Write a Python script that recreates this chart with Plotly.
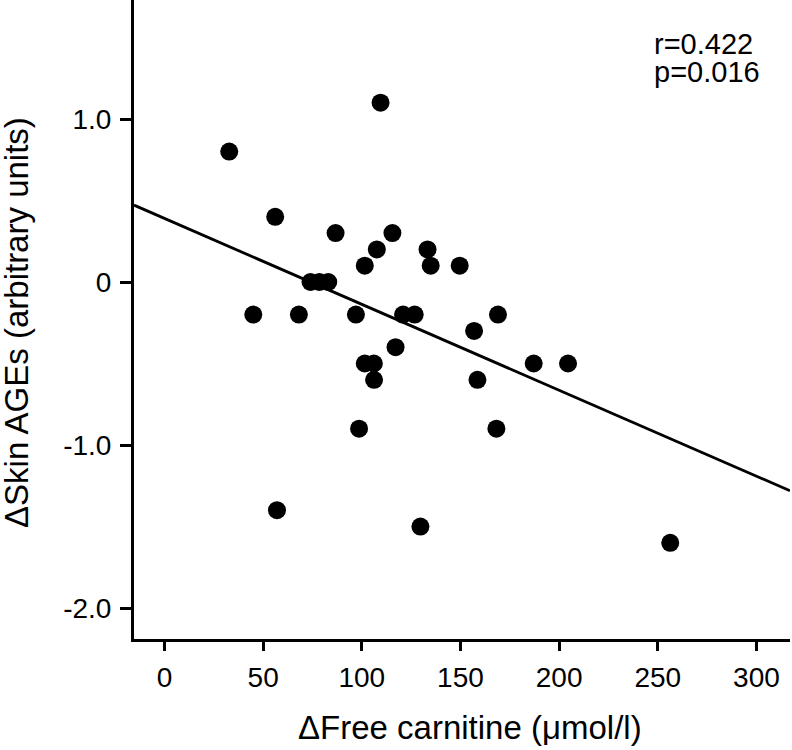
import plotly.graph_objects as go

# Data
free_carnitine = [109.5, 32.8, 56.1, 86.7, 115.5, 107.6, 133.3, 101.5, 134.9, 149.6,
                  74.0, 78.5, 83.0, 45.0, 68.1, 97.0, 120.9, 126.8, 169.0, 156.9,
                  117.1, 187.1, 101.5, 106.1, 204.5, 106.2, 158.6, 98.6, 168.2, 57.0,
                  129.7, 256.3]
skin_ages = [1.1, 0.8, 0.4, 0.3, 0.3, 0.2, 0.2, 0.1, 0.1, 0.1,
             0.0, 0.0, 0.0, -0.2, -0.2, -0.2, -0.2, -0.2, -0.2, -0.3,
             -0.4, -0.5, -0.5, -0.5, -0.5, -0.6, -0.6, -0.9, -0.9, -1.4,
             -1.5, -1.6]

fit_intercept = 0.39
fit_slope = -0.00527

x_tick_vals = [0, 50, 100, 150, 200, 250, 300]
x_tick_text = ["0", "50", "100", "150", "200", "250", "300"]
y_tick_vals = [-2, -1, 0, 1]
y_tick_text = ["-2.0", "-1.0", "0", "1.0"]

x_range = [-15.46, 317.0]
y_range = [-2.19, 1.73]

stats_lines = ["r=0.422", "p=0.016"]

FONT = "Liberation Sans, Arial, sans-serif"

fig = go.Figure()

line_x = x_range
line_y = [fit_intercept + fit_slope * v for v in line_x]
fig.add_trace(go.Scatter(x=line_x, y=line_y, mode="lines",
                         line=dict(color="black", width=2.8),
                         showlegend=False, hoverinfo="skip"))

fig.add_trace(go.Scatter(x=free_carnitine, y=skin_ages, mode="markers",
                         marker=dict(color="black", size=18, line=dict(width=0)),
                         showlegend=False))

fig.update_xaxes(range=x_range, showgrid=False, zeroline=False,
                 showline=True, linecolor="black", linewidth=3,
                 ticks="outside", ticklen=9, tickwidth=3, tickcolor="black",
                 tickvals=x_tick_vals, ticktext=x_tick_text,
                 tickfont=dict(family=FONT, size=28, color="black"),
                 ticklabelstandoff=2)
fig.update_yaxes(range=y_range, showgrid=False, zeroline=False,
                 showline=True, linecolor="black", linewidth=3,
                 ticks="outside", ticklen=11, tickwidth=3, tickcolor="black",
                 tickvals=y_tick_vals, ticktext=y_tick_text,
                 tickfont=dict(family=FONT, size=28, color="black"),
                 ticklabelstandoff=3)

annotations = [
    dict(text="\u0394Free carnitine (\u03bcmol/l)", xref="paper", yref="paper",
         x=0.5, y=-0.107, xanchor="center", yanchor="top", showarrow=False,
         font=dict(family=FONT, size=33, color="black"), xshift=8),
    dict(text="\u0394Skin AGEs (arbitrary units)", xref="paper", yref="paper",
         x=0, y=0.5, xanchor="left", yanchor="middle", showarrow=False,
         textangle=-90, font=dict(family=FONT, size=33, color="black"),
         xshift=-138, yshift=-3),
    dict(text=stats_lines[0], xref="paper", yref="paper",
         x=0.79, y=0.960, xanchor="left", yanchor="top", showarrow=False,
         font=dict(family=FONT, size=29, color="black")),
    dict(text=stats_lines[1], xref="paper", yref="paper",
         x=0.79, y=0.916, xanchor="left", yanchor="top", showarrow=False,
         font=dict(family=FONT, size=29, color="black")),
]

fig.update_layout(width=792, height=750,
                  margin=dict(l=134, r=2, t=0, b=111, autoexpand=False),
                  paper_bgcolor="white", plot_bgcolor="white",
                  annotations=annotations)

fig.write_html("out.html", config={"displayModeBar": False},
               post_script="document.body.style.margin='0';document.body.style.overflow='hidden';")
